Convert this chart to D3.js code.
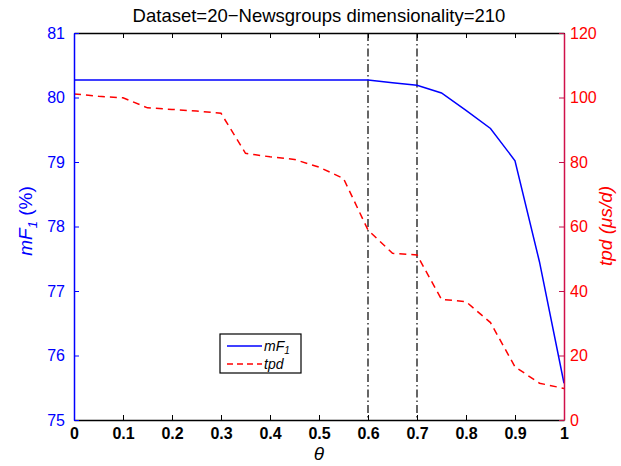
<!DOCTYPE html>
<html>
<head>
<meta charset="utf-8">
<script src="https://cdn.jsdelivr.net/npm/d3@7"></script>
<style>
  body { margin: 0; background: #fff; }
  text { font-family: "Liberation Sans", Arial, sans-serif; }
</style>
</head>
<body>
<div id="chart"></div>
<script>
// theta values, every 0.05
const theta = [0, 0.05, 0.1, 0.15, 0.2, 0.25, 0.3, 0.35, 0.4, 0.45, 0.5, 0.55, 0.6, 0.65, 0.7, 0.75, 0.8, 0.85, 0.9, 0.95, 1];
const mF1 = [80.27, 80.27, 80.27, 80.27, 80.27, 80.27, 80.27, 80.27, 80.27, 80.27, 80.27, 80.27, 80.27, 80.23, 80.19, 80.07, 79.8, 79.52, 79.02, 77.45, 75.57];
const tpd = [101.1, 100.4, 99.9, 96.8, 96.3, 95.8, 95.1, 82.7, 81.6, 80.8, 78.4, 74.9, 58.9, 51.7, 51.2, 37.4, 36.7, 30.2, 16.5, 11.4, 9.8];
const xTicks = [0, 0.1, 0.2, 0.3, 0.4, 0.5, 0.6, 0.7, 0.8, 0.9, 1];
const leftTicks = [75, 76, 77, 78, 79, 80, 81];
const rightTicks = [0, 20, 40, 60, 80, 100, 120];
const markers = [0.6, 0.7];

const width = 621, height = 466;
const margin = ({top: 33, right: 57, bottom: 46, left: 74});
const visWidth = width - margin.left - margin.right;
const visHeight = height - margin.top - margin.bottom;

const x = d3.scaleLinear().domain([0, 1]).range([0, visWidth]);
const yL = d3.scaleLinear().domain([75, 81]).range([visHeight, 0]);
const yR = d3.scaleLinear().domain([0, 120]).range([visHeight, 0]);

const svg = d3.select('#chart').append('svg')
    .attr('width', width)
    .attr('height', height);

const g = svg.append('g')
    .attr('transform', `translate(${margin.left}, ${margin.top})`);

// title
svg.append("text")
    .attr("x", margin.left + visWidth / 2)
    .attr("y", 22)
    .attr("text-anchor", "middle")
    .attr("font-size", "18.5px")
    .text("Dataset=20\u2212Newsgroups dimensionality=210");

// vertical markers
g.selectAll(".marker")
  .data(markers)
  .enter().append("line")
    .attr("x1", d => x(d)).attr("x2", d => x(d))
    .attr("y1", 0).attr("y2", visHeight)
    .attr("stroke", "#000")
    .attr("stroke-width", 1.2)
    .attr("stroke-dasharray", "8,3,1.5,3");

// lines
const lineL = d3.line().x((d, i) => x(theta[i])).y(d => yL(d));
const lineR = d3.line().x((d, i) => x(theta[i])).y(d => yR(d));

g.append("path")
    .datum(tpd)
    .attr("d", lineR)
    .attr("fill", "none")
    .attr("stroke", "#ff0000")
    .attr("stroke-width", 1.5)
    .attr("stroke-dasharray", "7,5");

g.append("path")
    .datum(mF1)
    .attr("d", lineL)
    .attr("fill", "none")
    .attr("stroke", "#0000ff")
    .attr("stroke-width", 1.5);

// axes
const xAxis = g.append("g")
    .attr("transform", `translate(0, ${visHeight})`)
    .call(d3.axisBottom(x).tickValues(xTicks).tickSizeInner(-5).tickSizeOuter(0)
        .tickPadding(8).tickFormat(d => d3.format("")(d)));
xAxis.selectAll("text").attr("font-size", "16px").attr("font-weight", "bold").attr("fill", "#000")
    .attr("font-family", "'Liberation Sans', Arial, sans-serif");
xAxis.select(".domain").attr("stroke", "#000").attr("stroke-width", 1.5);

const xTop = g.append("g")
    .call(d3.axisTop(x).tickValues(xTicks).tickSizeInner(-5).tickSizeOuter(0).tickFormat(""));
xTop.select(".domain").attr("stroke", "#000").attr("stroke-width", 1.5);

const leftAxis = g.append("g")
    .call(d3.axisLeft(yL).tickValues(leftTicks).tickSizeInner(-5).tickSizeOuter(0)
        .tickPadding(9).tickFormat(d3.format("d")));
leftAxis.selectAll("text").attr("font-size", "16px").attr("fill", "#0000ff")
    .attr("font-family", "'Liberation Sans', Arial, sans-serif");
leftAxis.selectAll("line").attr("stroke", "#0000ff");
leftAxis.select(".domain").attr("stroke", "#0000ff").attr("stroke-width", 1.5);

const rightAxis = g.append("g")
    .attr("transform", `translate(${visWidth}, 0)`)
    .call(d3.axisRight(yR).tickValues(rightTicks).tickSizeInner(-5).tickSizeOuter(0).tickPadding(6));
rightAxis.selectAll("text").attr("font-size", "16px").attr("fill", "#ff0000")
    .attr("font-family", "'Liberation Sans', Arial, sans-serif");
rightAxis.selectAll("line").attr("stroke", "#c0104a");
rightAxis.select(".domain").attr("stroke", "#d0104a").attr("stroke-width", 1.5);

// axis labels
svg.append("text")
    .attr("x", margin.left + visWidth / 2)
    .attr("y", 460)
    .attr("text-anchor", "middle")
    .attr("font-size", "19px")
    .attr("font-style", "italic")
    .attr("font-family", "'DejaVu Serif', 'Liberation Serif', serif")
    .text("\u03b8");

const ylab = svg.append("text")
    .attr("transform", "translate(32, 221) rotate(-90)")
    .attr("text-anchor", "middle")
    .attr("font-size", "19px")
    .attr("fill", "#0000ff");
ylab.append("tspan").attr("font-style", "italic").text("mF");
ylab.append("tspan").attr("font-style", "italic").attr("font-size", "13px").attr("dy", 5).text("1");
ylab.append("tspan").attr("dy", -5).text(" (%)");

svg.append("text")
    .attr("transform", "translate(612, 226) rotate(-90)")
    .attr("text-anchor", "middle")
    .attr("font-size", "19px")
    .attr("font-style", "italic")
    .attr("fill", "#ff0000")
    .text("tpd (\u03bcs/d)");

// legend
const legend = svg.append("g").attr("transform", "translate(220, 334)");
legend.append("rect")
    .attr("width", 81).attr("height", 39)
    .attr("fill", "#fff").attr("stroke", "#000").attr("stroke-width", 1.2);
legend.append("line")
    .attr("x1", 7).attr("x2", 42).attr("y1", 12).attr("y2", 12)
    .attr("stroke", "#0000ff").attr("stroke-width", 1.5);
legend.append("line")
    .attr("x1", 7).attr("x2", 42).attr("y1", 30).attr("y2", 30)
    .attr("stroke", "#ff0000").attr("stroke-width", 1.5).attr("stroke-dasharray", "6,4");
const lt1 = legend.append("text").attr("x", 44).attr("y", 17).attr("font-size", "14px").attr("font-style", "italic");
lt1.append("tspan").text("mF");
lt1.append("tspan").attr("font-size", "10px").attr("dy", 3).text("1");
legend.append("text").attr("x", 44).attr("y", 35).attr("font-size", "14px").attr("font-style", "italic").text("tpd");
</script>
</body>
</html>
